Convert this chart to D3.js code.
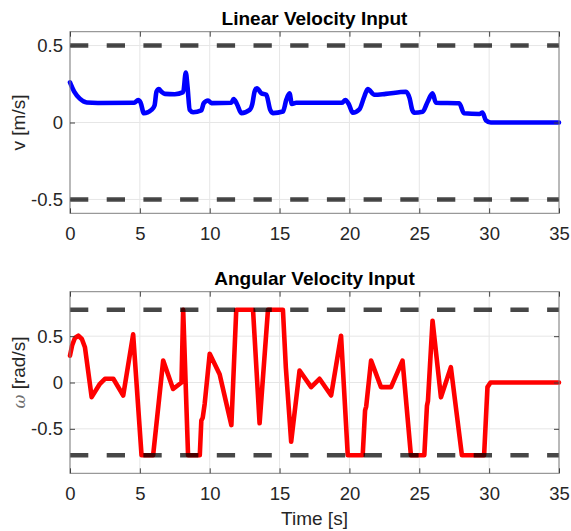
<!DOCTYPE html>
<html>
<head>
<meta charset="utf-8">
<script src="https://cdn.jsdelivr.net/npm/d3@7"></script>
<style>
    body { margin: 0; background: #fff; }
    text { font-family: "Liberation Sans", Arial, sans-serif; }
</style>
</head>
<body>
<svg width="571" height="531"></svg>
<script>
// time axis ticks (shared)
const timeTicks = [0, 5, 10, 15, 20, 25, 30, 35]

// linear velocity input
const vTime = [0, 0.3, 0.7, 1.2, 2, 4.6, 4.88, 5.05, 5.29, 5.83, 6.05, 6.19, 6.36, 6.55, 6.79, 7.5, 8.1, 8.29, 8.41, 8.57, 8.81, 9.4, 9.57, 9.88,
    10.12, 11.55, 11.71, 11.95, 12.26, 12.86, 13.05, 13.21, 13.38, 13.69, 14.05, 14.33, 14.52, 15.24, 15.48, 15.71, 15.88, 16.19,
    19.45, 19.71, 19.95, 20.24, 20.71, 21.07, 21.31, 21.79, 22.6, 24.05, 24.3, 24.5, 24.64, 25.24, 25.6, 25.95, 26.19,
    27.86, 28.2, 29.3, 29.52, 29.76, 30.12, 35]
const vValues = [0.26, 0.2, 0.155, 0.13, 0.127, 0.128, 0.146, 0.13, 0.06, 0.082, 0.11, 0.2, 0.217, 0.2, 0.186, 0.184, 0.197, 0.325, 0.234, 0.082, 0.067, 0.078, 0.125, 0.143,
    0.126, 0.128, 0.152, 0.12, 0.061, 0.082, 0.12, 0.2, 0.223, 0.19, 0.18, 0.082, 0.061, 0.071, 0.147, 0.19, 0.12, 0.128,
    0.128, 0.146, 0.12, 0.063, 0.085, 0.17, 0.217, 0.18, 0.186, 0.2, 0.16, 0.08, 0.063, 0.07, 0.135, 0.19, 0.128,
    0.125, 0.06, 0.055, 0.065, 0.015, 0, 0]
const vTicks = [-0.5, 0, 0.5]
const vLimits = [-0.5, 0.5]

// angular velocity input
const wTime = [0, 0.15, 0.35, 0.6, 0.85, 1.07, 1.55, 2.14, 2.5, 3.1, 3.81, 4.52, 5.12, 5.95, 6.67, 7.38, 7.98, 8.1, 8.45, 9.29, 9.4, 9.5, 9.64,
    10.0, 10.71, 11.55, 11.9, 13.1, 13.57, 14.17, 15.24, 15.45, 15.83, 16.43, 17.26, 17.86, 18.69, 19.4, 19.88,
    20.95, 21.12, 21.2, 21.55, 22.26, 22.98, 23.8, 24.4, 25.36, 25.55, 25.62, 25.95, 26.55, 27.26, 28.05, 29.64, 29.88, 30.1, 35]
const wValues = [0.29, 0.4, 0.48, 0.505, 0.47, 0.38, -0.158, -0.014, 0.04, 0.04, -0.14, 0.52, -0.785, -0.785, 0.237, -0.07, 0.0, 0.785, -0.785, -0.785, -0.41, -0.38, -0.23,
    0.31, 0.09, -0.46, 0.785, 0.785, -0.44, 0.785, 0.785, 0.16, -0.64, 0.13, -0.05, 0.04, -0.14, 0.505, -0.785,
    -0.785, -0.3, -0.26, 0.237, -0.05, -0.05, 0.237, -0.785, -0.785, -0.25, -0.2, 0.667, -0.16, 0.165, -0.785, -0.785, -0.05, 0, 0]
const wTicks = [-0.5, 0, 0.5]
const wLimits = [-0.785, 0.785]

let svg = d3.select("svg"),
    left = 70,
    right = 559,
    plotHeight = 181.6

let x = d3.scaleLinear()
    .domain([0, 35])
    .range([left, right])

function drawPanel(top, title, yDomain, yTicks, times, values, color, limits, curve) {
    let y = d3.scaleLinear()
        .domain(yDomain)
        .range([top + plotHeight, top])
    let bottom = top + plotHeight

    // grid
    svg.append("g").selectAll("line").data(timeTicks)
        .enter().append("line")
        .attr("x1", d => x(d)).attr("x2", d => x(d))
        .attr("y1", top).attr("y2", bottom)
        .attr("stroke", "#e6e6e6")
    svg.append("g").selectAll("line").data(yTicks)
        .enter().append("line")
        .attr("x1", left).attr("x2", right)
        .attr("y1", d => y(d)).attr("y2", d => y(d))
        .attr("stroke", "#e6e6e6")

    let line = d3.line()
        .x((d, i) => x(times[i]))
        .y(d => y(d))
        .curve(curve)

    svg.append("path")
        .datum(values)
        .attr("d", line)
        .attr("fill", "none")
        .attr("stroke", color)
        .attr("stroke-width", 4.6)
        .attr("stroke-linejoin", "round")
        .attr("stroke-linecap", "round")

    // limits, dashed
    svg.append("g").selectAll("line").data(limits)
        .enter().append("line")
        .attr("x1", left).attr("x2", right)
        .attr("y1", d => y(d)).attr("y2", d => y(d))
        .attr("stroke", "#000")
        .attr("stroke-opacity", 0.72)
        .attr("stroke-width", 4.6)
        .attr("stroke-dasharray", "18.3,18.4")

    svg.append("rect")
        .attr("x", left).attr("y", top)
        .attr("width", right - left).attr("height", plotHeight)
        .attr("fill", "none")
        .attr("stroke", "#808080")

    let fmt = d => String(d)

    let xAxis = svg.append("g")
        .attr("transform", "translate(0," + bottom + ")")
        .call(d3.axisBottom(x).tickValues(timeTicks).tickSize(-5).tickSizeOuter(0).tickPadding(14).tickFormat(fmt))
    let yAxis = svg.append("g")
        .attr("transform", "translate(" + left + ",0)")
        .call(d3.axisLeft(y).tickValues(yTicks).tickSize(-5).tickSizeOuter(0).tickPadding(7).tickFormat(fmt))
    let xTop = svg.append("g")
        .attr("transform", "translate(0," + top + ")")
        .call(d3.axisTop(x).tickValues(timeTicks).tickSize(-5).tickSizeOuter(0).tickFormat(""))
    let yRight = svg.append("g")
        .attr("transform", "translate(" + right + ",0)")
        .call(d3.axisRight(y).tickValues(yTicks).tickSize(-5).tickSizeOuter(0).tickFormat(""))

    ;[xAxis, yAxis, xTop, yRight].forEach(function (g) {
        g.select(".domain").remove()
        g.selectAll(".tick line").attr("stroke", "#404040")
        g.selectAll(".tick text")
            .attr("fill", "#262626")
            .style("font-size", "18.5px")
            .style("font-family", "'Liberation Sans', Arial, sans-serif")
    })

    svg.append("text")
        .attr("x", (left + right) / 2)
        .attr("y", top - 6.7)
        .attr("text-anchor", "middle")
        .style("font-size", "19px")
        .style("font-weight", "bold")
        .attr("fill", "#000")
        .text(title)

    return y
}

drawPanel(31.7, "Linear Velocity Input", [-0.59, 0.59], vTicks, vTime, vValues, "#0000ff", vLimits, d3.curveMonotoneX)
drawPanel(291.7, "Angular Velocity Input", [-0.98, 0.98], wTicks, wTime, wValues, "#ff0000", wLimits, d3.curveLinear)

// axis labels
svg.append("text")
    .attr("transform", "translate(25,122.5) rotate(-90)")
    .attr("text-anchor", "middle")
    .attr("fill", "#262626")
    .style("font-size", "19px")
    .text("v [m/s]")

let wLabel = svg.append("text")
    .attr("transform", "translate(25,372.5) rotate(-90)")
    .attr("text-anchor", "middle")
    .attr("fill", "#262626")
    .style("font-size", "19px")
wLabel.append("tspan")
    .attr("fill", "#707070")
    .style("font-style", "italic")
    .style("font-family", "'DejaVu Serif', serif")
    .style("font-size", "17px")
    .text("ω")
wLabel.append("tspan").text(" [rad/s]")

svg.append("text")
    .attr("x", 314.5)
    .attr("y", 525)
    .attr("text-anchor", "middle")
    .attr("fill", "#262626")
    .style("font-size", "19px")
    .text("Time [s]")
</script>
</body>
</html>
